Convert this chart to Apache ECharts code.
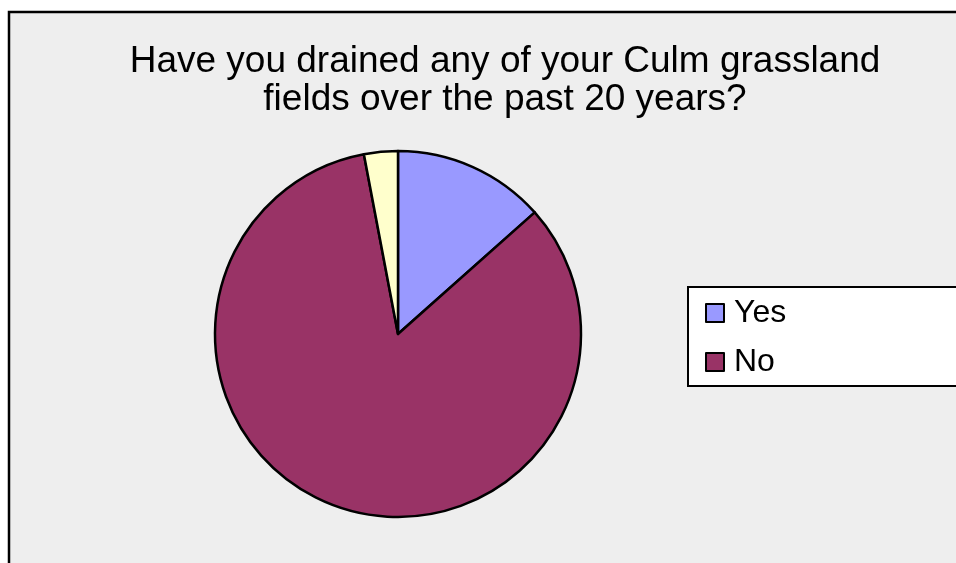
<!DOCTYPE html>
<html>
<head>
<meta charset="utf-8">
<script src="https://cdn.jsdelivr.net/npm/echarts@6/dist/echarts.min.js"></script>
<style>
  html, body { margin: 0; padding: 0; background: #fff; }
  #chart { width: 956px; height: 563px; }
</style>
</head>
<body>
<div id="chart"></div>
<script>
// answers (third slice has no legend entry)
const categories = ['Yes', 'No', 'No answer']
const counts = [9, 56, 2]
const colors = ['#9999FF', '#993366', '#FFFFCC']
const legendItems = ['Yes', 'No']

let chart = echarts.init(document.getElementById('chart'))
let option = {
  animation: false,
  backgroundColor: '#fff',
  graphic: [{
    // chart area frame, runs off the right and bottom edges
    type: 'rect',
    shape: { x: 9, y: 12, width: 1000, height: 600 },
    style: { fill: '#EEEEEE', stroke: '#000', lineWidth: 2.5 },
    z: -1
  }],
  title: {
    text: 'Have you drained any of your Culm grassland\nfields over the past 20 years?',
    left: 500,
    top: 38,
    textAlign: 'center',
    textStyle: {
      fontFamily: 'Liberation Sans',
      fontSize: 37,
      fontWeight: 'normal',
      color: '#000',
      lineHeight: 38
    }
  },
  legend: {
    data: legendItems,
    orient: 'vertical',
    left: 688,
    top: 287,
    backgroundColor: '#fff',
    borderColor: '#000',
    borderWidth: 2,
    borderRadius: 0,
    padding: [10, 300, 8, 17],
    itemGap: 17,
    icon: 'rect',
    itemWidth: 18,
    itemHeight: 18,
    itemStyle: { borderColor: '#000', borderWidth: 2 },
    textStyle: {
      fontFamily: 'Liberation Sans',
      fontSize: 32,
      color: '#000',
      padding: [0, 0, 0, 5]
    }
  },
  series: [{
    type: 'pie',
    center: [398, 334],
    radius: 183,
    startAngle: 90,
    clockwise: true,
    label: { show: false },
    labelLine: { show: false },
    emphasis: { disabled: true },
    itemStyle: { borderColor: '#000', borderWidth: 2.5 },
    data: categories.map((name, i) => ({
      name: name,
      value: counts[i],
      itemStyle: { color: colors[i] }
    }))
  }]
}
chart.setOption(option)
</script>
</body>
</html>
